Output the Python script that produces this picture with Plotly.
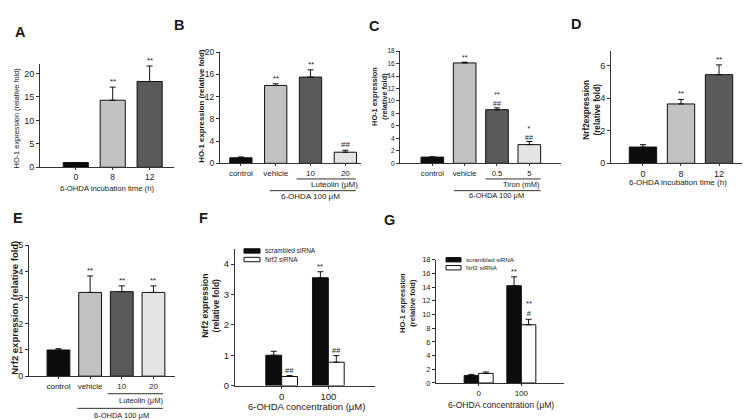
import plotly.graph_objects as go

W, H = 750, 420
FONT = "Liberation Sans, Arial, sans-serif"
TXT = "#1a1a1a"

def px(x):
    return x / W

def py(y):
    return 1 - y / H

# ---------------- data ----------------
a_cats = ["0", "8", "12"]
a_vals = [1.0, 14.3, 18.3]
a_err = [0.0, 2.8, 3.3]
a_sig = ["", "**", "**"]

b_cats = ["control", "vehicle", "10", "20"]
b_vals = [1.0, 14.0, 15.5, 2.0]
b_err = [0.15, 0.3, 1.3, 0.35]
b_sig = ["", "**", "**", "##"]

c_cats = ["control", "vehicle", "0.5", "5"]
c_vals = [1.0, 16.1, 8.6, 3.0]
c_err = [0.05, 0.12, 0.3, 0.5]
c_sig = ["", "**", "**<br>##", "*<br>##"]

d_cats = ["0", "8", "12"]
d_vals = [1.0, 3.65, 5.45]
d_err = [0.15, 0.28, 0.6]
d_sig = ["", "**", "**"]

e_cats = ["control", "vehicle", "10", "20"]
e_vals = [1.0, 3.2, 3.23, 3.2]
e_err = [0.05, 0.63, 0.22, 0.25]
e_sig = ["", "**", "**", "**"]

f_cats = ["0", "100"]
f_scr = [1.0, 3.55]
f_scr_err = [0.13, 0.2]
f_nrf = [0.3, 0.77]
f_nrf_err = [0.03, 0.22]
f_scr_sig = ["", "**"]
f_nrf_sig = ["##", "##"]

g_cats = ["0", "100"]
g_scr = [1.1, 14.2]
g_scr_err = [0.15, 1.3]
g_nrf = [1.4, 8.5]
g_nrf_err = [0.2, 0.8]
g_scr_sig = ["", "**"]
g_nrf_sig = ["", "**<br>#"]

series_names = ["scrambled siRNA", "Nrf2 siRNA"]

BLACK = "#0c0c0c"
LIGHT = "#c2c2c2"
DARK = "#5a5a5a"
PALE = "#e4e4e4"
WHITE = "#ffffff"
four_colors = [BLACK, LIGHT, DARK, PALE]
three_colors = [BLACK, LIGHT, DARK]
series_colors = [BLACK, WHITE]

fig = go.Figure()
annotations = []
shapes = []

# panel geometry: (x_left, x_right, y_bottom, y_top) in px; yf/xf = tick font sizes
panels = {
    "A": dict(ax="", box=(32, 166, 158, 52.4), yr=[0, 22], xr=[-0.97, 2.66], dtick=5, yf=9, xf=8.5),
    "B": dict(ax="2", box=(212, 353, 154, 40), yr=[0, 20], xr=[-0.6, 3.45], dtick=4, yf=8.5, xf=8),
    "C": dict(ax="3", box=(392, 553, 154, 39), yr=[0, 18], xr=[-1.0, 3.98], dtick=2, yf=6.5, xf=7.7),
    "D": dict(ax="4", box=(603, 735, 154, 39), yr=[0, 6.9], xr=[-0.84, 2.63], dtick=2, yf=9, xf=9),
    "E": dict(ax="5", box=(21, 167, 372, 238), yr=[0, 5], xr=[-0.93, 3.68], dtick=1, yf=9, xf=8),
    "F": dict(ax="6", box=(227, 367, 381.7, 241.7), yr=[0, 4.5], xr=[-1.0, 2.0], dtick=1, yf=9.5, xf=9.5),
    "G": dict(ax="7", box=(428, 556, 379, 252.7), yr=[0, 18], xr=[-1.0, 2.0], dtick=2, yf=7.5, xf=8),
}

layout_axes = {}
for name, p in panels.items():
    ax = p["ax"]
    xl, xr_, yb, yt = p["box"]
    layout_axes["xaxis" + ax] = dict(
        domain=[px(xl), px(xr_)], range=p["xr"], anchor="y" + ax,
        showline=True, linecolor="#333", linewidth=1, mirror=False,
        showgrid=False, zeroline=False, ticks="outside", ticklen=2,
        tickcolor="#333", tickfont=dict(family=FONT, size=p["xf"], color=TXT),
        tickmode="array", fixedrange=True,
    )
    layout_axes["yaxis" + ax] = dict(
        domain=[py(yb), py(yt)], range=p["yr"], anchor="x" + ax,
        showline=True, linecolor="#333", linewidth=1, mirror=False,
        showgrid=False, zeroline=False, ticks="outside", ticklen=3,
        tickcolor="#333", dtick=p["dtick"], tick0=0,
        tickfont=dict(family=FONT, size=p["yf"], color=TXT), fixedrange=True,
    )


def single_panel(name, cats, vals, errs, colors, sigs, width, sigfont=8):
    ax = panels[name]["ax"]
    xs = list(range(len(cats)))
    fig.add_trace(go.Bar(
        x=xs, y=vals, width=width, marker=dict(color=colors, line=dict(color="#111", width=1)),
        error_y=dict(type="data", array=errs, arrayminus=[0] * len(errs), symmetric=False,
                     color="#111", thickness=1, width=3),
        xaxis="x" + ax, yaxis="y" + ax, showlegend=False,
    ))
    layout_axes["xaxis" + ax]["tickvals"] = xs
    layout_axes["xaxis" + ax]["ticktext"] = cats
    for i, s in enumerate(sigs):
        if s:
            annotations.append(dict(
                x=i, y=vals[i] + errs[i], xref="x" + ax, yref="y" + ax, text=s,
                showarrow=False, yanchor="bottom", yshift=-1,
                font=dict(family=FONT, size=sigfont, color=TXT)))


single_panel("A", a_cats, a_vals, a_err, three_colors, a_sig, 0.68)
single_panel("B", b_cats, b_vals, b_err, four_colors, b_sig, 0.64)
single_panel("C", c_cats, c_vals, c_err, four_colors, c_sig, 0.7, sigfont=7)
single_panel("D", d_cats, d_vals, d_err, three_colors, d_sig, 0.72)
single_panel("E", e_cats, e_vals, e_err, four_colors, e_sig, 0.72)


def text(x, y, s, size, bold=False, angle=0, xanchor="center", yanchor="middle"):
    annotations.append(dict(
        x=px(x), y=py(y), xref="paper", yref="paper", text=("<b>%s</b>" % s) if bold else s,
        showarrow=False, textangle=angle, xanchor=xanchor, yanchor=yanchor,
        font=dict(family=FONT, size=size, color=TXT)))


def group_panel(name, cats, s1, e1, s2, e2, sig1, sig2, legend_box):
    ax = panels[name]["ax"]
    xs = list(range(len(cats)))
    for k, (vals, errs, sigs) in enumerate([(s1, e1, sig1), (s2, e2, sig2)]):
        fig.add_trace(go.Bar(
            x=xs, y=vals, name=series_names[k], offsetgroup=str(k),
            marker=dict(color=series_colors[k], line=dict(color="#111", width=1)),
            error_y=dict(type="data", array=errs, arrayminus=[0] * len(errs), symmetric=False,
                         color="#111", thickness=1, width=3),
            xaxis="x" + ax, yaxis="y" + ax, showlegend=False,
        ))
        off = -0.17 if k == 0 else 0.17
        for i, s in enumerate(sigs):
            if s:
                annotations.append(dict(
                    x=i + off, y=vals[i] + errs[i], xref="x" + ax, yref="y" + ax, text=s,
                    showarrow=False, yanchor="bottom", yshift=-1,
                    font=dict(family=FONT, size=7.5, color=TXT)))
    layout_axes["xaxis" + ax]["tickvals"] = xs
    layout_axes["xaxis" + ax]["ticktext"] = cats
    # compact key (swatch + label) like the original figure
    lx, ly, sw, sh, gap, fs = legend_box
    for k in range(2):
        y0 = ly + k * gap
        shapes.append(dict(type="rect", xref="paper", yref="paper",
                           x0=px(lx), x1=px(lx + sw), y0=py(y0), y1=py(y0 + sh),
                           fillcolor=series_colors[k], line=dict(color="#111", width=1)))
        text(lx + sw + 3, y0 + sh / 2, series_names[k], fs, xanchor="left")


group_panel("F", f_cats, f_scr, f_scr_err, f_nrf, f_nrf_err, f_scr_sig, f_nrf_sig,
            (236, 241.5, 16, 4.5, 8.8, 6.5))
group_panel("G", g_cats, g_scr, g_scr_err, g_nrf, g_nrf_err, g_scr_sig, g_nrf_sig,
            (438, 250.5, 15, 4.5, 8.2, 6.2))

# panel letters
for letter, (x, y) in {"A": (12, 19), "B": (171, 12), "C": (366, 13), "D": (568, 11),
                       "E": (10, 210), "F": (195, 210), "G": (381, 212)}.items():
    text(x, y, letter, 14.5, bold=True)

# axis titles
text(8, 108, "HO-1 expression (relative fold)", 7.4, angle=-90)
text(99, 180, "6-OHDA incubation time (h)", 7.7)
text(194, 96, "HO-1 expression (relative fold)", 7.8, bold=True, angle=-90)
text(372, 86, "HO-1 expression<br>(relative fold)", 7.4, bold=True, angle=-90)
text(584, 99, "Nrf2expression<br>(relative fold)", 8.2, bold=True, angle=-90)
text(670, 174, "6-OHDA incubation time (h)", 8)
text(7, 302, "Nrf2 expression (relative fold)", 9.5, bold=True, angle=-90)
text(203, 300, "Nrf2 expression<br>(relative fold)", 8.5, bold=True, angle=-90)
text(298, 403, "6-OHDA concentration (μM)", 9.5)
text(400, 297, "HO-1 expression<br>(relative fold)", 7.5, bold=True, angle=-90)
text(493, 402, "6-OHDA concentration (μM)", 8.6)

# treatment brackets (B, C, E) in category coordinates of each panel
def bracket(name, x0, x1, y, label, label_x, label_y, size):
    ax = panels[name]["ax"]
    shapes.append(dict(type="line", xref="x" + ax, yref="paper", x0=x0, x1=x1,
                       y0=py(y), y1=py(y), line=dict(color="#333", width=1)))
    annotations.append(dict(x=label_x, y=py(label_y), xref="x" + ax, yref="paper", text=label,
                            showarrow=False, xanchor="center", yanchor="middle",
                            font=dict(family=FONT, size=size, color=TXT)))

bracket("B", 1.6, 3.3, 170, "Luteolin (μM)", 2.7, 176, 8)
bracket("B", 0.83, 3.3, 182, "6-OHDA 100 μM", 2.0, 188, 8)
bracket("C", 1.65, 3.35, 170, "Tiron (mM)", 2.75, 176, 7.5)
bracket("C", 0.67, 3.35, 182, "6-OHDA 100 μM", 2.0, 187, 7.5)
bracket("E", 1.55, 3.3, 390, "Luteolin (μM)", 2.6, 397, 7.5)
bracket("E", 0.6, 3.3, 405, "6-OHDA 100 μM", 2.0, 412, 7.5)

fig.update_layout(
    width=W, height=H, margin=dict(l=0, r=0, t=0, b=0),
    paper_bgcolor="white", plot_bgcolor="white",
    barmode="group", bargap=0.32, bargroupgap=0,
    font=dict(family=FONT, color=TXT), showlegend=False,
    annotations=annotations, shapes=shapes,
    **layout_axes,
)

fig.write_html("out.html")
